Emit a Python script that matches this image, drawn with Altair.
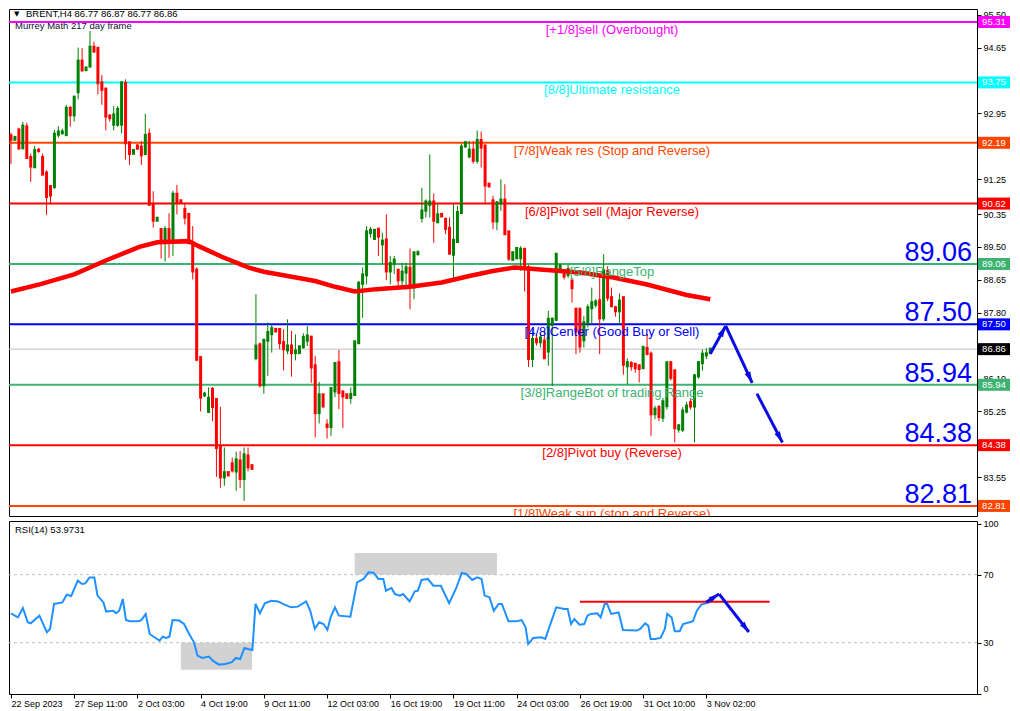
import altair as alt
import pandas as pd

# ---------------- data ----------------
opens = [92.37, 92.28, 92.52, 92.06, 92.60, 91.81, 91.57, 92.00, 91.81, 91.41,
         91.06, 91.06, 92.41, 92.45, 92.40, 93.08, 92.91, 93.51, 94.30, 94.08,
         94.17, 94.66, 94.63, 93.74, 93.57, 92.88, 92.67, 92.67, 92.67, 93.72,
         92.19, 91.92, 92.11, 92.08, 91.91, 92.41, 90.60, 90.19, 89.95, 89.65,
         89.95, 89.65, 90.86, 90.69, 90.47, 90.34, 89.61, 88.90, 86.64, 85.68,
         85.25, 85.82, 85.56, 84.32, 83.56, 83.67, 83.90, 83.71, 83.97, 83.52,
         84.10, 83.85, 86.64, 86.97, 85.94, 87.09, 87.26, 87.37, 87.37, 87.03,
         86.84, 86.94, 86.77, 86.77, 86.92, 87.09, 87.17, 86.43, 85.22, 85.68,
         84.90, 84.86, 85.78, 86.51, 85.75, 85.68, 85.61, 85.69, 87.03, 88.56,
         88.78, 89.87, 89.72, 89.96, 89.58, 89.68, 88.88, 89.07, 88.90, 88.65,
         88.85, 88.95, 88.47, 89.33, 90.26, 90.45, 90.60, 90.66, 90.15, 90.34,
         90.21, 89.98, 89.31, 89.64, 90.39, 92.11, 91.85, 92.00, 91.74, 92.25,
         92.11, 91.12, 90.69, 90.17, 90.64, 90.71, 89.89, 89.18, 89.22, 89.22,
         89.44, 88.96, 86.62, 87.11, 87.05, 87.07, 86.81, 87.50, 87.63, 88.92,
         88.84, 88.79, 88.62, 87.89, 87.89, 87.10, 87.54, 87.93, 88.02, 88.11,
         87.67, 88.85, 88.19, 87.93, 87.85, 88.19, 86.43, 86.49, 86.47, 86.43,
         86.38, 86.88, 86.73, 85.19, 85.35, 85.10, 85.40, 86.51, 86.30, 84.80,
         84.79, 85.26, 85.48, 85.39, 86.17, 86.51, 86.71, 86.77]
highs = [92.45, 92.35, 92.58, 92.73, 92.71, 91.91, 92.11, 92.06, 91.91, 91.48,
         91.10, 92.52, 92.62, 92.55, 93.17, 93.14, 93.40, 94.65, 94.63, 94.17,
         95.08, 94.80, 94.63, 93.94, 93.63, 92.93, 93.14, 93.14, 93.76, 93.83,
         92.22, 92.02, 92.15, 92.24, 92.94, 92.56, 90.94, 90.28, 89.95, 90.04,
         90.37, 90.95, 91.10, 90.73, 90.64, 90.36, 90.04, 88.97, 86.68, 85.76,
         85.87, 85.88, 85.56, 85.37, 84.32, 83.70, 84.06, 84.21, 84.23, 84.32,
         84.32, 83.87, 88.28, 87.03, 87.12, 87.55, 87.50, 87.38, 87.38, 87.37,
         87.63, 87.33, 87.24, 86.95, 87.27, 87.46, 87.20, 86.68, 86.01, 85.70,
         85.05, 85.87, 86.51, 86.84, 85.80, 85.70, 85.87, 87.08, 88.62, 88.97,
         90.04, 90.02, 89.96, 89.99, 89.87, 90.34, 89.27, 89.27, 88.90, 89.09,
         89.09, 89.46, 89.35, 89.42, 91.03, 90.73, 91.89, 90.88, 90.60, 90.38,
         90.26, 90.26, 90.60, 90.56, 92.17, 92.24, 92.24, 92.24, 92.51, 92.48,
         92.11, 91.16, 90.82, 90.69, 91.25, 91.12, 89.91, 89.38, 89.48, 89.52,
         89.46, 89.04, 87.42, 87.25, 87.30, 87.33, 87.85, 87.68, 89.33, 89.05,
         88.88, 89.05, 88.66, 87.93, 87.93, 87.72, 88.02, 88.45, 88.15, 88.75,
         89.31, 89.00, 88.45, 87.98, 88.30, 88.19, 86.62, 86.55, 86.50, 86.47,
         86.95, 87.25, 86.80, 85.40, 85.42, 85.60, 86.51, 86.55, 86.30, 84.92,
         85.36, 85.50, 85.60, 86.22, 86.55, 86.85, 86.88, 86.87]
lows = [91.64, 92.25, 92.00, 92.06, 91.79, 91.18, 91.57, 91.93, 91.36, 90.33,
        90.60, 91.00, 92.32, 92.40, 92.40, 92.61, 92.74, 93.31, 94.06, 94.04,
        94.16, 94.52, 93.44, 93.17, 92.51, 92.74, 92.51, 92.60, 92.43, 91.76,
        91.62, 91.89, 92.02, 91.62, 91.89, 90.58, 90.00, 90.17, 89.20, 89.12,
        89.22, 89.27, 90.34, 90.62, 90.08, 89.57, 88.66, 86.55, 85.25, 85.62,
        85.25, 85.00, 83.56, 83.28, 83.33, 83.58, 83.67, 83.20, 83.27, 82.94,
        83.70, 83.76, 86.57, 85.87, 85.71, 86.17, 86.77, 87.32, 86.86, 86.31,
        86.73, 86.15, 86.57, 86.75, 86.88, 86.94, 85.99, 84.58, 84.94, 85.37,
        84.55, 84.62, 85.62, 85.31, 84.82, 85.58, 85.45, 85.66, 86.98, 87.67,
        88.53, 89.74, 89.70, 89.27, 89.05, 88.64, 88.53, 88.80, 88.45, 88.45,
        88.40, 87.89, 88.15, 89.27, 90.13, 90.26, 90.26, 89.61, 90.13, 90.28,
        89.83, 89.30, 88.64, 89.64, 90.39, 92.06, 91.79, 91.65, 91.65, 91.55,
        90.60, 91.03, 89.96, 89.93, 90.43, 89.82, 89.14, 89.15, 89.18, 88.88,
        88.35, 86.40, 86.40, 86.95, 86.90, 86.60, 86.43, 85.91, 87.58, 88.88,
        88.66, 88.70, 88.06, 86.73, 86.77, 86.90, 87.42, 87.50, 87.93, 86.73,
        87.59, 88.10, 87.95, 87.70, 87.50, 86.20, 85.95, 86.30, 86.25, 86.00,
        86.36, 86.70, 84.62, 85.05, 85.00, 84.98, 85.30, 86.05, 84.45, 84.70,
        84.72, 85.20, 85.30, 84.45, 86.10, 86.30, 86.60, 86.77]
closes = [92.28, 92.33, 92.06, 92.62, 91.81, 91.59, 91.99, 91.99, 91.38, 90.80,
          90.84, 92.41, 92.47, 92.47, 93.08, 92.91, 93.37, 94.30, 94.07, 94.12,
          94.66, 94.56, 93.74, 93.57, 92.88, 92.84, 92.91, 93.05, 93.74, 92.19,
          91.91, 91.99, 92.05, 91.88, 92.38, 90.60, 90.19, 90.24, 89.65, 89.95,
          89.65, 90.86, 90.66, 90.65, 90.27, 89.61, 88.88, 86.60, 85.62, 85.70,
          85.59, 85.38, 84.32, 83.56, 83.67, 83.61, 83.74, 84.00, 83.52, 84.13,
          83.82, 83.78, 86.94, 85.94, 87.09, 87.29, 87.39, 87.33, 87.03, 86.87,
          86.94, 86.77, 86.81, 86.92, 87.16, 87.20, 86.40, 85.22, 85.68, 85.39,
          84.86, 85.84, 86.49, 85.74, 85.65, 85.61, 85.69, 87.05, 88.56, 88.78,
          89.89, 89.93, 89.93, 89.78, 89.65, 88.88, 89.07, 89.16, 88.65, 88.85,
          88.96, 88.47, 89.35, 89.35, 90.43, 90.66, 90.66, 90.19, 90.33, 90.30,
          89.98, 89.34, 89.67, 90.39, 92.08, 92.19, 92.00, 91.74, 92.25, 92.08,
          91.10, 91.08, 90.17, 90.64, 90.71, 89.84, 89.21, 89.35, 89.46, 89.44,
          88.96, 86.62, 87.11, 87.05, 87.15, 86.64, 87.63, 87.63, 89.31, 89.01,
          88.75, 88.92, 88.45, 87.33, 86.94, 87.54, 87.93, 88.06, 88.08, 87.67,
          88.88, 88.20, 87.98, 87.85, 88.10, 86.47, 86.51, 86.43, 86.38, 86.36,
          86.90, 86.75, 85.19, 85.31, 85.12, 85.50, 86.51, 86.13, 84.83, 84.88,
          85.26, 85.39, 85.39, 86.17, 86.51, 86.73, 86.74, 86.86]

# moving average (thick red line), sampled along the curve
ma_bar = [0, 7.5, 16, 24, 32.5, 37, 45, 47.5, 53.5, 60, 64, 70, 77, 82, 87, 92.5,
          101, 109, 116, 122, 127.5, 134, 144, 152.5, 161, 171, 177]
ma_value = [88.35, 88.54, 88.79, 89.15, 89.50, 89.62, 89.65, 89.52, 89.24, 88.97,
            88.86, 88.75, 88.62, 88.47, 88.35, 88.41, 88.47, 88.58, 88.75, 88.88,
            88.97, 88.92, 88.84, 88.71, 88.53, 88.26, 88.15]

# Murrey Math levels
murrey_levels = [95.31, 93.75, 92.19, 90.62, 89.06, 87.50, 85.94, 84.38, 82.81]
murrey_labels = ["[+1/8]sell (Overbought)", "[8/8]Ultimate resistance",
                 "[7/8]Weak res (Stop and Reverse)", "[6/8]Pivot sell (Major Reverse)",
                 "[5/8]RangeTop", "[4/8]Center (Good Buy or Sell)",
                 "[3/8]RangeBot of trading Range", "[2/8]Pivot buy (Reverse)",
                 "[1/8]Weak sup (stop and Reverse)"]
murrey_colors = ["#FF00FF", "#00FFFF", "#FF4500", "#FF0000", "#3CB371",
                 "#0000FF", "#3CB371", "#FF0000", "#FF4500"]
big_levels = [89.06, 87.50, 85.94, 84.38, 82.81]

# price-scale labels that are not hidden behind the level boxes
price_ticks = [95.50, 94.65, 92.95, 91.25, 90.35, 89.50, 88.65,
               87.80, 86.10, 85.25, 83.55]

# time axis
tick_bars = [0, 16, 32, 48, 64, 80, 96, 112, 128, 144, 160, 176]
tick_labels = ["22 Sep 2023", "27 Sep 11:00", "2 Oct 03:00", "4 Oct 19:00",
               "9 Oct 11:00", "12 Oct 03:00", "16 Oct 19:00", "19 Oct 11:00",
               "24 Oct 03:00", "26 Oct 19:00", "31 Oct 10:00", "3 Nov 02:00"]

# drawn arrows on the price chart
main_arrow_x1 = [177.0, 180.9, 188.8]
main_arrow_y1 = [86.74, 87.46, 85.71]
main_arrow_x2 = [180.9, 187.6, 195.25]
main_arrow_y2 = [87.46, 85.99, 84.45]
main_arrow_angle = [29, 155, 152]

# RSI(14)
rsi_bar = [0, 1.75, 3, 4.25, 5, 7.2, 9.1, 9.9, 10.9, 13,
           14.1, 15.25, 16.9, 18, 18.8, 19.9, 21.1, 21.9, 23.4, 24.1,
           25.9, 26.6, 27.4, 28.3, 29.1, 30.1, 32.2, 33, 34.1, 35.1,
           36.3, 37.6, 38.4, 39.25, 40.1, 40.9, 42.6, 43.8, 45.1, 46.3,
           47.2, 48.4, 50.1, 51.1, 52.6, 54.25, 55.9, 56.9, 58, 59.1,
           59.9, 61.1, 61.9, 63, 64.25, 65.9, 67.6, 69.25, 70.9, 72.6,
           74.7, 75.75, 76.9, 78, 79.1, 80.1, 80.9, 82, 83, 85.9,
           87.6, 89.25, 90.5, 91.75, 93, 94.25, 94.9, 96.3, 97.2, 98.4,
           99.25, 100.9, 102.2, 103, 103.9, 105.5, 106.9, 108.8, 110.9, 112.6,
           114.1, 115.25, 116.75, 118, 119.1, 119.9, 121.1, 122.2, 123.4, 124.25,
           125.9, 128, 129.25, 130.25, 130.9, 132.2, 134.25, 135.25, 136.3, 138,
           140.1, 140.9, 141.75, 142.6, 143.9, 145.1, 145.9, 146.75, 148.4, 149.25,
           150.25, 150.9, 151.9, 153.8, 154.9, 158.4, 159.25, 160.5, 161.3, 161.9,
           163, 164.4, 165.5, 166.1, 167.2, 168, 169.25, 170.1, 171.75, 172.6,
           173.6, 174.7, 175.9, 177]
rsi_val = [47.3, 44.9, 50.4, 42.0, 41.4, 45.9, 36.1, 38.1, 52.8, 53.7,
           58.2, 57.5, 66.5, 64.5, 64.9, 68.4, 68.4, 57.7, 53.7, 48.3,
           48.8, 47.3, 48.8, 55.7, 43.3, 42.6, 42.6, 43.3, 46.9, 35.1,
           33.2, 31.2, 33.5, 32.8, 33.5, 43.3, 43.0, 41.0, 35.1, 30.2,
           22.4, 21.0, 21.8, 19.4, 17.1, 17.5, 18.5, 21.0, 20.4, 26.9,
           26.3, 25.7, 52.8, 47.3, 53.2, 54.7, 54.3, 52.4, 50.8, 51.2,
           54.3, 48.8, 38.1, 42.0, 41.0, 37.5, 44.9, 50.8, 45.9, 45.3,
           65.5, 67.5, 71.4, 71.2, 67.5, 67.5, 60.6, 62.2, 58.6, 57.7,
           58.6, 54.3, 60.2, 60.6, 66.9, 67.5, 63.5, 63.5, 53.2, 61.6,
           71.0, 70.4, 66.9, 68.4, 67.5, 57.7, 56.7, 48.8, 52.8, 52.8,
           42.6, 42.6, 43.3, 39.0, 29.2, 32.8, 33.2, 32.2, 39.4, 50.8,
           49.8, 49.8, 41.0, 43.9, 40.6, 41.0, 45.9, 46.9, 47.3, 44.9,
           52.8, 52.8, 46.9, 47.8, 37.5, 37.1, 38.1, 41.4, 40.0, 32.2,
           32.2, 32.8, 38.1, 46.9, 44.9, 36.7, 36.7, 41.0, 42.0, 42.6,
           48.8, 52.4, 53.2, 53.9731]
rsi_levels = [30, 70]
rsi_ticks = [0, 30, 70, 100]

# grey zones drawn on the RSI window
zone_x1 = [43, 87]
zone_x2 = [61, 123]
zone_y1 = [14, 70]
zone_y2 = [30, 82.7]
# red resistance line on RSI
rsi_res_x1 = [144]
rsi_res_x2 = [192]
rsi_res_y = [54.1]
# arrows on RSI
rsi_arrow_x1 = [176.0, 179.25]
rsi_arrow_y1 = [53.9, 58.6]
rsi_arrow_x2 = [179.25, 186.75]
rsi_arrow_y2 = [58.6, 36.3]
rsi_arrow_angle = [58, 142]

# ---------------- layout / style ----------------
W = 968
H_MAIN = 507
H_RSI = 173
FONT = "Liberation Sans"
ARROW_BLUE = "#0A0AE6"
ARROW_HEAD = "M0,0L0.42,1.5L-0.42,1.5Z"
BOX = "M-1,-0.375L1,-0.375L1,0.375L-1,0.375Z"

x_scale = alt.Scale(domain=[-0.5, 244.5], nice=False, zero=False)
y_scale = alt.Scale(domain=[82.55, 95.646], nice=False, zero=False)
rsi_scale = alt.Scale(domain=[-0.2, 101.6], nice=False, zero=False)

price_axis = alt.Axis(orient="right", values=price_ticks, format=".2f",
                      labelFontSize=9, labelFont=FONT, labelColor="black",
                      tickColor="black", tickSize=4, labelPadding=2,
                      domain=False, grid=False, title=None)
rsi_axis = alt.Axis(orient="right", values=rsi_ticks, format="d", labelFlush=True,
                    labelFontSize=9, labelFont=FONT, labelColor="black",
                    tickColor="black", tickSize=4, labelPadding=2,
                    domain=False, grid=False, title=None)

expr = "''"
for b, t in reversed(list(zip(tick_bars, tick_labels))):
    expr = f"datum.value == {b} ? '{t}' : ({expr})"
time_axis = alt.Axis(values=tick_bars, labelExpr=expr, labelAlign="left",
                     labelBaseline="top", tickSize=4, labelPadding=1,
                     labelFontSize=9, labelFont=FONT, labelColor="black",
                     tickColor="black", domain=False, grid=False, title=None,
                     labelOverlap=False, labelFlush=False, labelBound=False)


def XM(f):
    return alt.X(f, type="quantitative", scale=x_scale, axis=None)


def YM(f):
    return alt.Y(f, type="quantitative", scale=y_scale, axis=price_axis)


candles = pd.DataFrame({"bar": list(range(len(closes))), "open": opens,
                        "high": highs, "low": lows, "close": closes})
candles["dir"] = ["up" if c >= o else "down" for o, c in zip(opens, closes)]
dir_color = alt.Color("dir:N", scale=alt.Scale(domain=["up", "down"],
                                               range=["#008000", "#FF0000"]),
                      legend=None)

murrey = pd.DataFrame({"level": murrey_levels, "label": murrey_labels,
                       "color": murrey_colors})
big = murrey[murrey["level"].isin(big_levels)]

last_close = closes[-1]
boxes = pd.DataFrame({"level": murrey_levels + [last_close],
                      "color": murrey_colors + ["#000000"]})
boxes["text"] = [f"{v:.2f}" for v in boxes["level"]]

ma = pd.DataFrame({"bar": ma_bar, "ma": ma_value})
arrows_main = pd.DataFrame({"x1": main_arrow_x1, "y1": main_arrow_y1,
                            "x2": main_arrow_x2, "y2": main_arrow_y2,
                            "angle": main_arrow_angle})

level_rules = alt.Chart(murrey).mark_rule(strokeWidth=2).encode(
    y=YM("level"), color=alt.Color("color:N", scale=None))
price_rule = alt.Chart(pd.DataFrame({"p": [last_close]})).mark_rule(
    color="#C0C0C0", strokeWidth=1).encode(y=YM("p"))
wicks = alt.Chart(candles).mark_rule(strokeWidth=1).encode(
    x=XM("bar"), y=YM("low"), y2="high", color=dir_color)
bodies = alt.Chart(candles).mark_rule(strokeWidth=3, strokeCap="square").encode(
    x=XM("bar"), y=YM("open"), y2="close", color=dir_color)
ma_line = alt.Chart(ma).mark_line(color="#FF0000", strokeWidth=4.5).encode(
    x=XM("bar"), y=YM("ma"))
level_text = alt.Chart(murrey).mark_text(
    font=FONT, fontSize=13, align="center", baseline="top", dy=2, clip=True
).encode(x=alt.value(603), y=YM("level"), text="label:N",
         color=alt.Color("color:N", scale=None))
big_text = alt.Chart(big).mark_text(
    font=FONT, fontSize=27, align="right", baseline="alphabetic", dy=-3,
    color="#0000FF"
).encode(x=alt.value(W - 5), y=YM("level"),
         text=alt.Text("level:Q", format=".2f"))
arrow_lines = alt.Chart(arrows_main).mark_rule(strokeWidth=3, color=ARROW_BLUE).encode(
    x=XM("x1"), x2="x2", y=YM("y1"), y2="y2")
arrow_heads = alt.Chart(arrows_main).mark_point(
    shape=ARROW_HEAD, filled=True, size=220, color=ARROW_BLUE, opacity=1,
    strokeWidth=0
).encode(x=XM("x2"), y=YM("y2"), angle=alt.Angle("angle:Q", scale=None))
box_marks = alt.Chart(boxes).mark_point(
    shape=BOX, filled=True, size=1024, opacity=1, strokeWidth=0
).encode(x=alt.value(W + 17), y=YM("level"), color=alt.Color("color:N", scale=None))
box_text = alt.Chart(boxes).mark_text(
    font=FONT, fontSize=9.5, color="white", align="center", baseline="middle"
).encode(x=alt.value(W + 17), y=YM("level"), text="text:N")

header = f"BRENT,H4  {opens[-1]:.2f} {highs[-1]:.2f} {lows[-1]:.2f} {closes[-1]:.2f}"
head_tri = alt.Chart(pd.DataFrame({"t": ["\u25BC"]})).mark_text(
    font="DejaVu Sans", fontSize=7, align="left", baseline="middle", color="black"
).encode(x=alt.value(5), y=alt.value(5), text="t:N")
head_txt = alt.Chart(pd.DataFrame({"t": [header]})).mark_text(
    font=FONT, fontSize=9.5, align="left", baseline="middle", color="black"
).encode(x=alt.value(17), y=alt.value(5), text="t:N")
sub_txt = alt.Chart(pd.DataFrame({"t": ["Murrey Math 217 day frame"]})).mark_text(
    font=FONT, fontSize=9.5, align="left", baseline="middle", color="#101030"
).encode(x=alt.value(6), y=alt.value(17), text="t:N")

main = alt.layer(
    level_rules, price_rule, wicks, bodies, ma_line, level_text, big_text,
    arrow_lines, arrow_heads, box_marks, box_text, head_tri, head_txt, sub_txt
).properties(width=W, height=H_MAIN)

# ---------------- RSI panel ----------------
def XR(f):
    return alt.X(f, type="quantitative", scale=x_scale, axis=time_axis)


def YR(f):
    return alt.Y(f, type="quantitative", scale=rsi_scale, axis=rsi_axis)


rsi_df = pd.DataFrame({"bar": rsi_bar, "rsi": rsi_val})
zones = pd.DataFrame({"x1": zone_x1, "x2": zone_x2, "y1": zone_y1, "y2": zone_y2})
res = pd.DataFrame({"x1": rsi_res_x1, "x2": rsi_res_x2, "y": rsi_res_y})
arrows_rsi = pd.DataFrame({"x1": rsi_arrow_x1, "y1": rsi_arrow_y1,
                           "x2": rsi_arrow_x2, "y2": rsi_arrow_y2,
                           "angle": rsi_arrow_angle})

zone_rects = alt.Chart(zones).mark_rect(color="#B4B4B4", opacity=0.6).encode(
    x=XR("x1"), x2="x2", y=YR("y1"), y2="y2")
rsi_grid = alt.Chart(pd.DataFrame({"lv": rsi_levels})).mark_rule(
    color="#C0C0C0", strokeWidth=1, strokeDash=[3, 3]).encode(y=YR("lv"))
rsi_line = alt.Chart(rsi_df).mark_line(color="#1E90FF", strokeWidth=2).encode(
    x=XR("bar"), y=YR("rsi"))
res_rule = alt.Chart(res).mark_rule(color="#FF0000", strokeWidth=2).encode(
    x=XR("x1"), x2="x2", y=YR("y"))
rsi_arrow_lines = alt.Chart(arrows_rsi).mark_rule(strokeWidth=3, color=ARROW_BLUE).encode(
    x=XR("x1"), x2="x2", y=YR("y1"), y2="y2")
rsi_arrow_heads = alt.Chart(arrows_rsi).mark_point(
    shape=ARROW_HEAD, filled=True, size=200, color=ARROW_BLUE, opacity=1,
    strokeWidth=0
).encode(x=XR("x2"), y=YR("y2"), angle=alt.Angle("angle:Q", scale=None))
rsi_title = alt.Chart(pd.DataFrame({"t": [f"RSI(14) {rsi_val[-1]:.4f}"]})).mark_text(
    font=FONT, fontSize=9.5, align="left", baseline="middle", color="black"
).encode(x=alt.value(6), y=alt.value(9), text="t:N")

rsi = alt.layer(
    zone_rects, rsi_grid, rsi_line, res_rule, rsi_arrow_lines, rsi_arrow_heads,
    rsi_title
).properties(width=W, height=H_RSI)

chart = alt.vconcat(main, rsi, spacing=2).properties(
    padding={"left": -7, "top": 0, "right": 0, "bottom": 0}, background="white"
).configure_view(stroke="black", strokeWidth=1)

chart.save("out.html", embed_options={"renderer": "svg", "actions": False})
